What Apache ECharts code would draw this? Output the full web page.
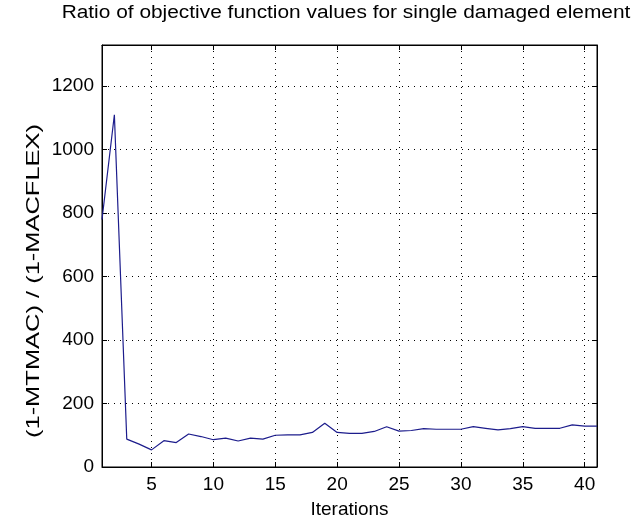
<!DOCTYPE html>
<html>
<head>
<meta charset="utf-8">
<script src="https://cdn.jsdelivr.net/npm/echarts@6/dist/echarts.min.js"></script>
<style>
  html, body { margin: 0; padding: 0; background: #ffffff; }
  #chart { width: 632px; height: 524px; }
</style>
</head>
<body>
<div id="chart"></div>
<script>
// Objective-function ratio per optimisation iteration
const iterations = [1,2,3,4,5,6,7,8,9,10,11,12,13,14,15,16,17,18,19,20,21,22,23,24,25,26,27,28,29,30,31,32,33,34,35,36,37,38,39,40,41];
const ratioValues = [780,1110,88,72,54,83,77,104,96,86,91,82,91,88,100,101,101,109,138,109,106,106,112,127,113,115,121,119,119,119,127,122,117,121,127,122,122,122,133,129,129];
const xTicks = [5,10,15,20,25,30,35,40];
const yTicks = [0,200,400,600,800,1000,1200];
const titleText = 'Ratio of objective function values for single damaged element';
const yLabelText = '(1-MTMAC) / (1-MACFLEX)';
const xLabelText = 'Iterations';

const FONT = "'Liberation Sans', Arial, sans-serif";
const points = iterations.map((it, i) => [it, ratioValues[i]]);
const plainNumber = v => String(v);

const chart = echarts.init(document.getElementById('chart'), null, { renderer: 'canvas' });

const baseX = {
  type: 'value', min: 1, max: 41,
  axisLine: { show: true, onZero: false, lineStyle: { color: '#000', width: 1 } },
  axisTick: { show: true, inside: true, length: 5, customValues: xTicks, lineStyle: { color: '#000' } },
  axisLabel: { show: true, customValues: xTicks, formatter: plainNumber, color: '#000', fontFamily: FONT, fontSize: 19, margin: 8 },
  splitLine: { show: true, lineStyle: { color: '#000', type: [1, 5], width: 1 } }
};
const baseY = {
  type: 'value', min: 0, max: 1330,
  axisLine: { show: true, onZero: false, lineStyle: { color: '#000', width: 1 } },
  axisTick: { show: true, inside: true, length: 5, customValues: yTicks, lineStyle: { color: '#000' } },
  axisLabel: { show: true, customValues: yTicks, formatter: plainNumber, color: '#000', fontFamily: FONT, fontSize: 19, margin: 8 },
  splitLine: { show: true, lineStyle: { color: '#000', type: [1, 5], width: 1 } }
};

chart.setOption({
  animation: false,
  backgroundColor: '#ffffff',
  // Boxed plot area
  grid: { left: 102, right: 35, top: 45, bottom: 56, show: true, borderColor: '#000', borderWidth: 1, backgroundColor: 'transparent' },
  xAxis: [
    Object.assign({}, baseX, {
      position: 'bottom',
      name: xLabelText, nameLocation: 'middle', nameGap: 33,
      nameTextStyle: { color: '#000', fontFamily: FONT, fontSize: 19 }
    }),
    Object.assign({}, baseX, {
      position: 'top',
      axisLabel: { show: false },
      splitLine: { show: false }
    })
  ],
  yAxis: [
    Object.assign({}, baseY, { position: 'left' }),
    Object.assign({}, baseY, {
      position: 'right',
      axisLabel: { show: false },
      splitLine: { show: false }
    })
  ],
  // Title and vertical axis caption drawn as stretched text elements
  graphic: [
    {
      type: 'text', x: 346, y: 13, scaleX: 1.16,
      style: { text: titleText, fill: '#000', font: '18px ' + FONT, align: 'center', verticalAlign: 'middle' }
    },
    {
      type: 'text', x: 34, y: 281, rotation: Math.PI / 2, scaleX: 1.34,
      style: { text: yLabelText, fill: '#000', font: '19px ' + FONT, align: 'center', verticalAlign: 'middle' }
    }
  ],
  series: [{
    type: 'line',
    data: points,
    showSymbol: false,
    lineStyle: { color: '#1c1c8c', width: 1.2 },
    itemStyle: { color: '#1c1c8c' }
  }]
});
</script>
</body>
</html>
